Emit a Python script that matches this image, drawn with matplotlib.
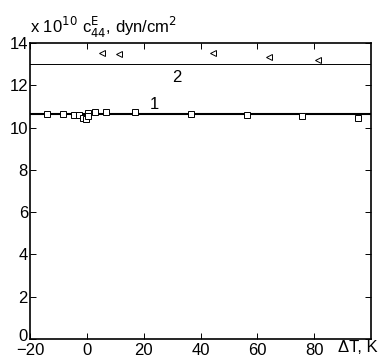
import numpy as np
import matplotlib.pyplot as plt
import matplotlib.transforms as mtransforms

plt.rcParams['font.family'] = ['Liberation Sans', 'DejaVu Sans']

# === Datos ===
sq_t = [-14, -8.4, -4.6, -2.6, -1.2, -0.2, 0.5, 0.5, 2.7, 6.8, 17, 36.6, 56.2, 75.7, 95.6]
sq_c = [10.64, 10.64, 10.6, 10.58, 10.47, 10.41, 10.68, 10.55, 10.74, 10.74, 10.74, 10.66, 10.6, 10.55, 10.47]
tri_t = [5.3, 11.4, 44.5, 64, 81.4]
tri_c = [13.54, 13.48, 13.51, 13.33, 13.2]
line1 = 10.63
line2 = 13.0
x_ticks = [-20, 0, 20, 40, 60, 80]
y_ticks = [0, 2, 4, 6, 8, 10, 12, 14]

# === Figura ===
fig = plt.figure(figsize=(3.79, 3.62), dpi=100)
ax = fig.add_axes([30/379, 23/362, 341/379, 296/362])

ax.axhline(line1, color='black', linewidth=1.5)
ax.axhline(line2, color='black', linewidth=0.7)
ax.plot(sq_t, sq_c, 's', markersize=4.2, markerfacecolor='white',
        markeredgecolor='black', markeredgewidth=0.7)
ax.plot(tri_t, tri_c, '<', markersize=4.8, markerfacecolor='white',
        markeredgecolor='black', markeredgewidth=0.7)

ax.text(23.9, 11.07, "1", fontsize=12, ha='center', va='center')
ax.text(31.7, 12.35, "2", fontsize=12, ha='center', va='center')

ax.set_xlim(-20, 100)
ax.set_ylim(0, 14)
ax.set_xticks(x_ticks)
ax.set_yticks(y_ticks)
ax.set_xticklabels(['\u221220', '0', '20', '40', '60', '80'])
ax.tick_params(direction='in', top=True, right=True, labelsize=12,
               length=4, width=0.7)
ax.tick_params(axis='x', pad=3)
ax.tick_params(axis='y', pad=1.5)
for s in ax.spines.values():
    s.set_linewidth(1.2)

# el "0" del eje y un poco más arriba, como en el original
lbl0 = ax.get_yticklabels()[0]
lbl0.set_transform(lbl0.get_transform() +
                   mtransforms.ScaledTranslation(0, 3/72, fig.dpi_scale_trans))

fig.text(30/379, 1 - 33/362, r"x 10$^{10}$", fontsize=12, ha='left', va='baseline')
fig.text(82/379, 1 - 33/362, r"c$^{\mathrm{E}}_{44}$, dyn/cm$^{2}$", fontsize=12,
         ha='left', va='baseline')
fig.text(338/379, 1 - 348/362, "\u0394T, K", fontsize=12, ha='left', va='center')

fig.savefig("out.png", dpi=100)
